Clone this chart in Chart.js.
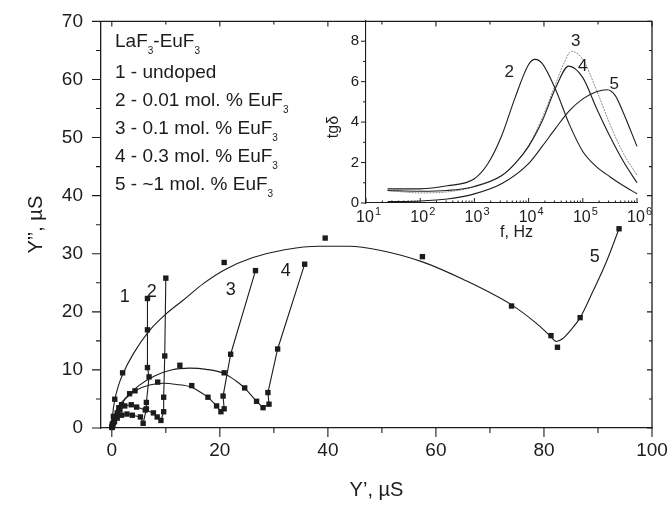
<!DOCTYPE html>
<html><head><meta charset="utf-8">
<script src="https://cdn.jsdelivr.net/npm/chart.js@4.4.0/dist/chart.umd.min.js"></script>
<style>
html,body{margin:0;padding:0;background:#fff;}
#wrap{position:relative;width:672px;height:508px;background:#fff;}
#main{position:absolute;left:0;top:0;}
#inset{position:absolute;left:300px;top:0;}
</style></head><body>
<div id="wrap">
<canvas id="main" width="672" height="508"></canvas>
<canvas id="inset" width="372" height="250"></canvas>
</div>
<script>
// ---------- DATA: main plot, Y' (µS) vs Y'' (µS) ----------
const xTicks = [0, 20, 40, 60, 80, 100];
const yTicks = [0, 10, 20, 30, 40, 50, 60, 70];

// 1 - undoped (markers joined by line)
const s1Pts = [[0.05,0.1],[0.2,0.5],[0.5,1.1],[1.0,1.7],[1.8,2.2],[2.8,2.4],[3.8,2.2],[5.3,1.9],[5.8,0.8],[6.4,3.3],[6.4,4.4],[6.9,8.8],[6.6,10.4],[6.6,16.9],[6.6,22.3]];
// 2 - 0.01 mol.% EuF3
const s2Pts = [[0.1,0.2],[0.3,0.9],[0.8,1.9],[1.5,3.1],[2.4,3.8],[3.6,4.0],[4.6,3.6],[6.2,3.1],[7.7,2.6],[8.4,1.9],[9.1,1.3],[9.6,2.8],[9.6,5.3],[9.8,12.4],[10.0,25.8]];
// 3 - 0.1 mol.% EuF3
const s3Pts = [[0.1,0.3],[0.4,1.3],[1.0,2.6],[1.8,4.0],[3.3,5.9],[8.5,7.9],[14.8,7.3],[17.8,5.3],[19.4,3.8],[20.2,2.8],[20.8,3.3],[20.6,5.5],[22.0,12.7],[26.6,27.1]];
const s3Arc = [[0,0],[0.4,1.5],[1.2,3.2],[2.5,5.0],[4.5,6.5],[7,7.4],[9.5,7.7],[12,7.5],[14.8,7.0],[16.5,6.1],[17.8,5.3]];
const s3SpurFrom = 7;
// 4 - 0.3 mol.% EuF3
const s4Pts = [[0.1,0.3],[0.5,1.8],[1.3,3.5],[4.3,6.4],[12.6,10.8],[20.8,9.5],[24.6,6.9],[26.8,4.6],[28.0,3.5],[29.1,4.1],[28.9,6.1],[30.7,13.6],[35.7,28.2]];
const s4Arc = [[0,0],[0.5,2.2],[1.5,4.0],[3,5.6],[5,7.3],[8,9.0],[11,10.0],[14.4,10.3],[17.5,10.1],[20.8,9.4],[23,8.1],[24.6,6.9]];
const s4SpurFrom = 6;
// 5 - ~1 mol.% EuF3 (markers + fitted curve)
const s5Pts = [[0.02,0.1],[0.1,0.7],[0.3,2.0],[0.55,4.95],[2.0,9.5],[20.8,28.5],[39.5,32.7],[57.5,29.5],[74.0,21.0],[81.3,15.9],[82.5,13.9],[86.7,19.0],[93.9,34.3]];
const s5Fit = [[0,0],[0.15,2.2],[0.55,4.8],[1.2,7.2],[2.0,9.2],[4,12.8],[7,16.8],[10,19.6],[13.2,22.0],[17,24.9],[21,27.3],[26,29.3],[32,30.7],[38.5,31.3],[44,31.3],[49.6,30.6],[57.5,28.6],[65,25.6],[74,21.2],[78.5,18.1],[81,16.0],[82.3,14.9],[83.5,15.4],[85,16.9],[86.7,19.0],[89,23.4],[91.5,28.5],[93.9,34.3]];
// curve labels in data coords
const mainLabels = [['1',2.4,22.6],['2',7.4,23.4],['3',22.0,23.7],['4',32.2,27.0],['5',89.4,29.4]];

// ---------- DATA: inset, tgδ vs f (Hz) ----------
const fTicks = [10, 100, 1000, 10000, 100000, 1000000];
const tgTicks = [0, 2, 4, 6, 8];
const tg2 = [[25,0.7],[100,0.7],[316,0.85],[1000,1.2],[1780,1.95],[3160,3.3],[5620,5.2],[10000,6.85],[13200,7.1],[17800,6.9],[31600,5.6],[56200,3.9],[100000,2.55],[178000,1.8],[316000,1.3],[562000,0.85],[1000000,0.46]];
const tg3 = [[25,0.62],[100,0.5],[316,0.55],[1000,0.8],[3160,1.35],[5620,1.95],[10000,2.85],[17800,4.2],[31600,5.9],[44700,6.9],[62000,7.5],[100000,7.1],[178000,5.6],[316000,3.9],[562000,2.45],[1000000,1.38]];
const tg4 = [[25,0.62],[100,0.58],[316,0.62],[1000,0.82],[3160,1.35],[5620,1.95],[10000,2.8],[17800,4.05],[31600,5.7],[55000,6.77],[100000,6.2],[178000,4.7],[316000,3.3],[562000,2.05],[1000000,1.0]];
const tg5 = [[25,0.07],[100,0.1],[316,0.2],[1000,0.45],[3160,0.95],[10000,1.95],[17800,2.8],[31600,3.7],[56200,4.55],[100000,5.15],[178000,5.5],[282000,5.6],[400000,5.3],[562000,4.45],[1000000,2.8]];
const insetLabels = [['2',4400,6.45],['3',74000,8.0],['4',100000,6.75],['5',380000,5.85]];

// ---------- RENDERING ----------
const FONT = '"Liberation Sans", Arial, Helvetica, sans-serif';
const INK = '#1c1c1c';
const P = a => a.map(([x,y]) => ({x, y}));

function markerSet(arr, line){
  return {data:P(arr), showLine:!!line, borderColor:INK, borderWidth:1.1, tension:0,
    pointStyle:'rect', pointRadius:3.8, pointBackgroundColor:INK, pointBorderWidth:0, clip:false};
}
function curveSet(arr, smooth, color, width, dash){
  return {data:P(arr), showLine:true, borderColor:color||INK, borderWidth:width||1.1,
    pointRadius:0, cubicInterpolationMode: smooth ? 'monotone' : 'default', tension:0,
    borderDash: dash||[], clip:false};
}

function drawSub(ctx, parts, x, y, big, small, drop){
  let cx = x;
  parts.forEach(([t, sub]) => {
    ctx.font = (sub ? small : big) + 'px ' + FONT;
    ctx.fillText(t, cx, sub ? y + drop : y);
    cx += ctx.measureText(t).width;
  });
}

const mainDeco = {
  id:'mainDeco',
  afterDraw(chart){
    const {ctx, chartArea:a, scales:{x, y}} = chart;
    ctx.save();
    ctx.strokeStyle = INK; ctx.lineWidth = 1.3;
    ctx.beginPath();
    ctx.moveTo(a.left, a.top); ctx.lineTo(a.right, a.top); ctx.lineTo(a.right, a.bottom);
    ctx.stroke();
    ctx.lineWidth = 1.1;
    ctx.beginPath();
    for (let i = 0; i < xTicks.length; i++){
      const px = x.getPixelForValue(xTicks[i]);
      ctx.moveTo(px, a.bottom); ctx.lineTo(px, a.bottom + 9);
      ctx.moveTo(px, a.top); ctx.lineTo(px, a.top + 5);
      if (i < xTicks.length - 1){
        const pm = x.getPixelForValue((xTicks[i] + xTicks[i+1]) / 2);
        ctx.moveTo(pm, a.bottom); ctx.lineTo(pm, a.bottom + 5);
        ctx.moveTo(pm, a.top); ctx.lineTo(pm, a.top + 3);
      }
    }
    for (let i = 0; i < yTicks.length; i++){
      const py = y.getPixelForValue(yTicks[i]);
      ctx.moveTo(a.left, py); ctx.lineTo(a.left - 9, py);
      ctx.moveTo(a.right, py); ctx.lineTo(a.right - 5, py);
      if (i < yTicks.length - 1){
        const pm = y.getPixelForValue((yTicks[i] + yTicks[i+1]) / 2);
        ctx.moveTo(a.left, pm); ctx.lineTo(a.left - 5, pm);
        ctx.moveTo(a.right, pm); ctx.lineTo(a.right - 3, pm);
      }
    }
    ctx.stroke();
    // curve labels
    ctx.fillStyle = INK; ctx.textAlign = 'center'; ctx.textBaseline = 'middle';
    ctx.font = '18px ' + FONT;
    mainLabels.forEach(([t, vx, vy]) => ctx.fillText(t, x.getPixelForValue(vx), y.getPixelForValue(vy)));
    // legend block
    ctx.textAlign = 'left';
    const lx = 115, B = 19, S = 10, D = 9;
    drawSub(ctx, [['LaF',0],['3',1],['-EuF',0],['3',1]], lx, 42, B, S, D);
    drawSub(ctx, [['1 - undoped',0]], lx, 73, B, S, D);
    drawSub(ctx, [['2 - 0.01 mol. % EuF',0],['3',1]], lx, 101, B, S, D);
    drawSub(ctx, [['3 - 0.1 mol. % EuF',0],['3',1]], lx, 129, B, S, D);
    drawSub(ctx, [['4 - 0.3 mol. % EuF',0],['3',1]], lx, 157, B, S, D);
    drawSub(ctx, [['5 - ~1 mol. % EuF',0],['3',1]], lx, 185, B, S, D);
    ctx.restore();
  }
};

new Chart(document.getElementById('main'), {
  type:'scatter',
  data:{datasets:[
    markerSet(s1Pts, true),
    markerSet(s2Pts, true),
    curveSet(s3Arc, true),
    curveSet(s3Pts.slice(s3SpurFrom), false),
    markerSet(s3Pts, false),
    curveSet(s4Arc, true),
    curveSet(s4Pts.slice(s4SpurFrom), false),
    markerSet(s4Pts, false),
    curveSet(s5Fit, true),
    markerSet(s5Pts, false)
  ]},
  options:{
    responsive:false, animation:false, devicePixelRatio:1, events:[],
    layout:{padding:{left:0, right:20, top:21, bottom:0}},
    plugins:{legend:{display:false}, tooltip:{enabled:false}},
    scales:{
      x:{type:'linear', min:-2, max:100,
        afterBuildTicks: s => { s.ticks = xTicks.map(v => ({value:v})); },
        afterFit: s => { s.height = 80; },
        grid:{display:false}, border:{display:true, color:INK, width:1.3},
        ticks:{font:{family:FONT, size:19}, color:INK, padding:3, maxRotation:0},
        title:{display:true, text:'Y’, µS', font:{family:FONT, size:20}, color:INK, padding:{top:0, bottom:6}}
      },
      y:{type:'linear', min:0, max:70,
        afterBuildTicks: s => { s.ticks = yTicks.map(v => ({value:v})); },
        afterFit: s => { s.width = 101; },
        grid:{display:false}, border:{display:true, color:INK, width:1.3},
        ticks:{font:{family:FONT, size:19}, color:INK, padding:10},
        title:{display:true, text:'Y’’, µS', font:{family:FONT, size:20}, color:INK, padding:{top:24, bottom:0}}
      }
    }
  },
  plugins:[mainDeco]
});

const insetDeco = {
  id:'insetDeco',
  afterDraw(chart){
    const {ctx, chartArea:a, scales:{x, y}} = chart;
    ctx.save();
    ctx.strokeStyle = INK; ctx.lineWidth = 1.0;
    ctx.beginPath();
    for (let i = 0; i < tgTicks.length; i++){
      const py = y.getPixelForValue(tgTicks[i]);
      ctx.moveTo(a.left, py); ctx.lineTo(a.left - 5, py);
      if (i < tgTicks.length - 1){
        const pm = y.getPixelForValue((tgTicks[i] + tgTicks[i+1]) / 2);
        ctx.moveTo(a.left, pm); ctx.lineTo(a.left - 3, pm);
      }
    }
    for (let i = 0; i < fTicks.length; i++){
      const px = x.getPixelForValue(fTicks[i]);
      ctx.moveTo(px, a.bottom); ctx.lineTo(px, a.bottom - 5);
      if (i < fTicks.length - 1){
        for (let m = 2; m <= 9; m++){
          const pm = x.getPixelForValue(fTicks[i] * m);
          ctx.moveTo(pm, a.bottom); ctx.lineTo(pm, a.bottom - 2.5);
        }
      }
    }
    ctx.stroke();
    ctx.fillStyle = INK; ctx.textBaseline = 'middle';
    ctx.font = '15px ' + FONT; ctx.textAlign = 'right';
    tgTicks.forEach(v => ctx.fillText(String(v), a.left - 7, y.getPixelForValue(v)));
    fTicks.forEach(v => {
      const px = x.getPixelForValue(v);
      const e = Math.round(Math.log10(v));
      ctx.font = '16px ' + FONT; ctx.textAlign = 'center';
      ctx.fillText('10', px - 1, a.bottom + 15);
      ctx.font = '11px ' + FONT; ctx.textAlign = 'left';
      ctx.fillText(String(e), px + 9, a.bottom + 9);
    });
    ctx.font = '16px ' + FONT; ctx.textAlign = 'center';
    ctx.fillText('f, Hz', (a.left + a.right) / 2 + 15, a.bottom + 30);
    ctx.save();
    ctx.translate(a.left - 32, 127); ctx.rotate(-Math.PI / 2);
    ctx.fillText('tgδ', 0, 0);
    ctx.restore();
    ctx.font = '17px ' + FONT;
    insetLabels.forEach(([t, vx, vy]) => ctx.fillText(t, x.getPixelForValue(vx), y.getPixelForValue(vy)));
    ctx.restore();
  }
};

new Chart(document.getElementById('inset'), {
  type:'scatter',
  data:{datasets:[
    curveSet(tg2, true),
    curveSet(tg4, true),
    curveSet(tg5, true),
    curveSet(tg3, true, '#8a8a8a', 1.0, [2, 1])
  ]},
  options:{
    responsive:false, animation:false, devicePixelRatio:1, events:[],
    layout:{padding:{left:0, right:35, top:21, bottom:0}},
    plugins:{legend:{display:false}, tooltip:{enabled:false}},
    scales:{
      x:{type:'logarithmic', min:10, max:1000000,
        afterFit: s => { s.height = 47; },
        grid:{display:false}, border:{display:true, color:INK, width:1.1},
        ticks:{display:false}
      },
      y:{type:'linear', min:0, max:9,
        afterFit: s => { s.width = 66; },
        grid:{display:false}, border:{display:true, color:INK, width:1.1},
        ticks:{display:false}
      }
    }
  },
  plugins:[insetDeco]
});
</script>
</body></html>
